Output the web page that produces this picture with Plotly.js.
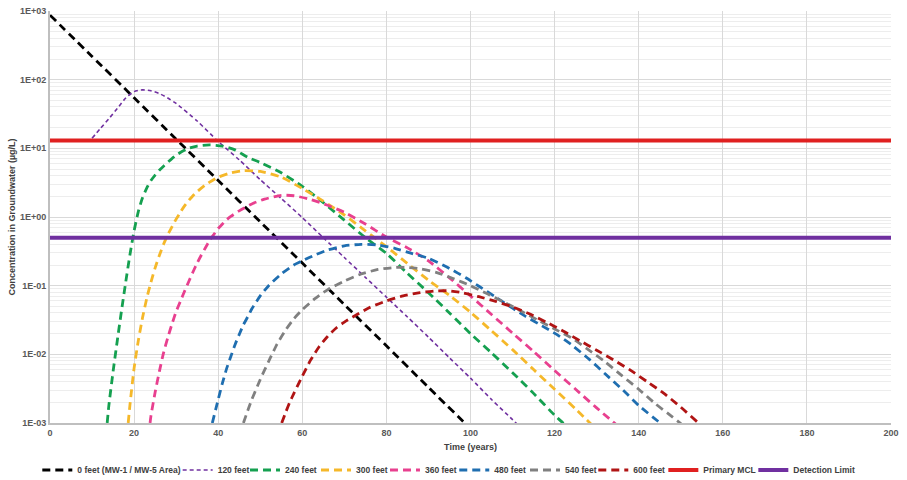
<!DOCTYPE html>
<html>
<head>
<meta charset="utf-8">
<script src="https://cdn.plot.ly/plotly-3.0.1.min.js"></script>
<style>html,body{margin:0;padding:0;background:#fff;}#chart{width:907px;height:480px;}</style>
</head>
<body>
<div id="chart"></div>
<script>
// ---- Data ----
const seriesNames = ["0 feet (MW-1 / MW-5 Area)", "120 feet", "240 feet", "300 feet", "360 feet", "480 feet", "540 feet", "600 feet"];

const time0ft = [0, 10, 20, 30, 40, 50, 60, 70, 80, 90, 100];
const conc0ft = [870, 218, 54.5, 13.6, 3.4, 0.85, 0.213, 0.053, 0.0133, 0.0033, 0.00083];

const time120ft = [10, 12, 14, 16, 18, 20, 22, 24, 26, 28, 30, 35, 40, 45, 50, 55, 60, 65, 70, 75, 80, 85, 90, 95, 100, 105, 110, 112];
const conc120ft = [14, 19.5, 27, 38, 54, 67, 71, 69, 63, 54, 45, 25, 12.6, 6.8, 3.5, 1.86, 0.98, 0.5, 0.257, 0.132, 0.068, 0.035, 0.0178, 0.0089, 0.0045, 0.0022, 0.00112, 0.00085];

const time240ft = [13.6, 14, 15, 16, 17, 18, 19, 20, 21, 22, 23, 24, 25, 26, 27, 29, 31, 33, 35, 38, 41, 44, 47, 50, 55, 60, 65, 70, 75, 80, 85, 90, 95, 100, 105, 110, 115, 120, 122, 124];
const conc240ft = [0.001, 0.0018, 0.0056, 0.0158, 0.043, 0.112, 0.28, 0.63, 1.2, 1.9, 2.63, 3.39, 4.07, 4.8, 5.5, 7.1, 8.7, 10.0, 10.8, 11.2, 10.8, 9.5, 7.4, 6.2, 4.4, 2.8, 1.62, 0.9, 0.5, 0.295, 0.151, 0.079, 0.040, 0.020, 0.0105, 0.0054, 0.0027, 0.0013, 0.001, 0.00076];

const time300ft = [18.6, 19, 20, 21, 22, 23, 24, 25, 26, 27, 28, 29, 30, 31, 32, 33, 34, 35, 37, 40, 43, 46, 50, 55, 60, 65, 70, 75, 80, 85, 90, 95, 100, 105, 110, 115, 120, 125, 130];
const conc300ft = [0.001, 0.0018, 0.0063, 0.0158, 0.034, 0.065, 0.112, 0.182, 0.275, 0.4, 0.55, 0.72, 0.93, 1.17, 1.45, 1.74, 2.04, 2.34, 2.95, 3.8, 4.4, 4.73, 4.6, 3.8, 2.6, 1.7, 1.07, 0.63, 0.37, 0.21, 0.12, 0.072, 0.041, 0.022, 0.0117, 0.006, 0.0031, 0.0016, 0.0008];

const time360ft = [23.8, 24, 25, 26, 27, 28, 29, 30, 31, 32, 33, 34, 35, 36, 37, 38, 39, 40, 41, 42, 43, 45, 48, 51, 55, 58, 62, 66, 70, 75, 80, 85, 90, 95, 100, 105, 110, 115, 120, 125, 130, 135];
const conc360ft = [0.001, 0.00126, 0.0028, 0.0056, 0.0105, 0.0174, 0.0275, 0.042, 0.059, 0.083, 0.115, 0.158, 0.214, 0.28, 0.36, 0.46, 0.56, 0.68, 0.79, 0.91, 1.02, 1.23, 1.55, 1.82, 2.07, 2.04, 1.8, 1.48, 1.17, 0.79, 0.51, 0.355, 0.23, 0.13, 0.071, 0.038, 0.0204, 0.011, 0.0058, 0.0031, 0.00166, 0.00091];

const time480ft = [38.6, 40, 41, 42, 43, 44, 45, 46, 47, 48, 50, 52, 55, 58, 60, 63, 66, 70, 74, 78, 82, 86, 90, 95, 99, 102, 106, 110, 113, 117, 120.5, 124, 128.4, 132, 136.3, 140, 145.1, 147];
const conc480ft = [0.001, 0.0022, 0.0038, 0.0062, 0.0093, 0.0138, 0.0195, 0.027, 0.035, 0.046, 0.071, 0.1, 0.148, 0.2, 0.23, 0.28, 0.33, 0.38, 0.40, 0.39, 0.35, 0.295, 0.25, 0.178, 0.129, 0.098, 0.068, 0.047, 0.036, 0.026, 0.0195, 0.0138, 0.0083, 0.0052, 0.003, 0.0018, 0.001, 0.00079];

const time540ft = [46, 47, 48, 50, 52, 54, 56, 58, 60, 63, 66, 70, 74, 78, 82, 85, 88, 92, 96, 100, 104, 108, 112, 116, 120, 124, 128, 132, 136, 140, 144, 148, 150, 152];
const conc540ft = [0.001, 0.0015, 0.0022, 0.0043, 0.0079, 0.0141, 0.0224, 0.033, 0.0447, 0.0646, 0.087, 0.117, 0.148, 0.172, 0.184, 0.184, 0.176, 0.155, 0.126, 0.1, 0.076, 0.0575, 0.0427, 0.0316, 0.0234, 0.0174, 0.0117, 0.0078, 0.0049, 0.0031, 0.0019, 0.00123, 0.00098, 0.00079];

const time600ft = [55.1, 56, 57, 58, 60, 62, 64, 66, 68, 70, 73, 76, 80, 84, 88, 92, 95, 98, 102, 106, 110, 114, 118, 122, 126, 130, 134, 138, 142, 146, 150, 154.2, 156];
const conc600ft = [0.001, 0.0014, 0.002, 0.0027, 0.0048, 0.0083, 0.0129, 0.0182, 0.024, 0.0295, 0.038, 0.048, 0.060, 0.071, 0.079, 0.084, 0.084, 0.079, 0.069, 0.059, 0.049, 0.039, 0.0295, 0.0219, 0.0158, 0.0115, 0.0083, 0.0059, 0.004, 0.0027, 0.0017, 0.001, 0.00079];

const mclName = "Primary MCL";
const mclLevel = 13;
const detName = "Detection Limit";
const detLevel = 0.5;
const refLineTime = [0, 200];

const xTickVals = [0, 20, 40, 60, 80, 100, 120, 140, 160, 180, 200];
const yTickVals = [0.001, 0.01, 0.1, 1, 10, 100, 1000];
const yTickText = ["1E-03", "1E-02", "1E-01", "1E+00", "1E+01", "1E+02", "1E+03"];

// ---- Styles ----
const seriesColors = ["#000000", "#7030A0", "#15a050", "#f5b82a", "#e8408f", "#1f6eb0", "#808080", "#b01414"];
const seriesTimes = [time0ft, time120ft, time240ft, time300ft, time360ft, time480ft, time540ft, time600ft];
const seriesConcs = [conc0ft, conc120ft, conc240ft, conc300ft, conc360ft, conc480ft, conc540ft, conc600ft];

// one legend box per entry so the row lays out like the original
const legendX = [-0.0151, 0.1518, 0.2319, 0.3163, 0.3983, 0.4807, 0.5648, 0.6460, 0.7293, 0.8363];
const legendId = i => (i === 0 ? "legend" : "legend" + (i + 1));

const traces = seriesNames.map((name, i) => ({
  type: "scatter",
  mode: "lines",
  name: name,
  legend: legendId(i),
  x: seriesTimes[i],
  y: seriesConcs[i],
  line: {
    color: seriesColors[i],
    width: i === 1 ? 1.6 : 2.8,
    dash: i === 1 ? "4px,3px" : "8px,5px",
    shape: "spline",
    smoothing: 0.6
  }
}));

traces.push({
  type: "scatter", mode: "lines", name: mclName, legend: legendId(8),
  x: refLineTime, y: refLineTime.map(() => mclLevel),
  line: {color: "#e02020", width: 4}
});
traces.push({
  type: "scatter", mode: "lines", name: detName, legend: legendId(9),
  x: refLineTime, y: refLineTime.map(() => detLevel),
  line: {color: "#7030A0", width: 4}
});

const fontFam = "Liberation Sans, Arial, sans-serif";
const tickFont = {family: fontFam, size: 9, color: "#595959", weight: "bold"};

const layout = {
  width: 907,
  height: 480,
  margin: {l: 50, r: 16, t: 11, b: 57, autoexpand: false},
  paper_bgcolor: "#ffffff",
  plot_bgcolor: "#ffffff",
  showlegend: true,
  xaxis: {
    range: [0, 200],
    tickmode: "array",
    tickvals: xTickVals,
    ticktext: xTickVals.map(String),
    showgrid: true,
    gridcolor: "#d9d9d9",
    gridwidth: 1,
    zeroline: false,
    showline: true,
    linecolor: "#bfbfbf",
    linewidth: 2,
    ticks: "",
    tickfont: tickFont,
    title: {text: "Time (years)", font: {family: fontFam, size: 9, color: "#404040", weight: "bold"}, standoff: 7},
    automargin: false
  },
  yaxis: {
    type: "log",
    range: [-3, 3],
    tickmode: "array",
    tickvals: yTickVals,
    ticktext: yTickText,
    showgrid: true,
    gridcolor: "#d9d9d9",
    gridwidth: 1,
    zeroline: false,
    showline: true,
    linecolor: "#bfbfbf",
    linewidth: 2,
    ticks: "",
    tickfont: tickFont,
    minor: {dtick: "D1", showgrid: true, gridcolor: "#ededed", gridwidth: 1, ticks: ""},
    title: {text: "Concentration in Groundwater (µg/L)", font: {family: fontFam, size: 9, color: "#404040", weight: "bold"}, standoff: 3},
    automargin: false
  }
};

legendX.forEach((lx, i) => {
  layout[legendId(i)] = {
    orientation: "h",
    x: lx, xanchor: "left",
    y: -0.1141, yanchor: "middle",
    bgcolor: "rgba(0,0,0,0)",
    borderwidth: 0,
    itemwidth: 30,
    font: {family: fontFam, size: 8.5, color: "#404040", weight: "bold"}
  };
});

Plotly.newPlot("chart", traces, layout, {displayModeBar: false, staticPlot: true});
</script>
</body>
</html>
